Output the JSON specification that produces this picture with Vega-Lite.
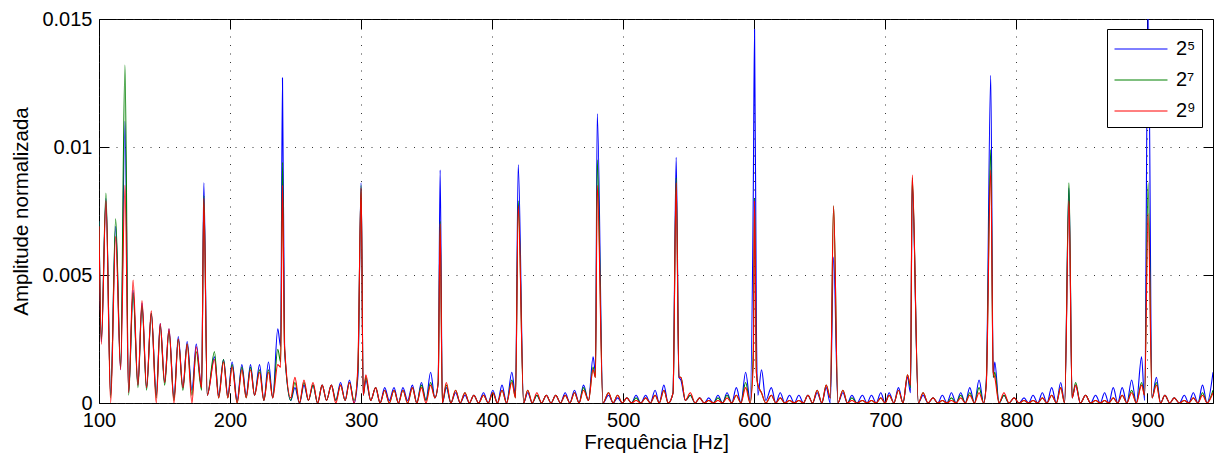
{
  "$schema": "https://vega.github.io/schema/vega-lite/v6.json",
  "width": 1114,
  "height": 384,
  "autosize": {"type": "none"},
  "padding": {"left": 99, "top": 19, "right": 2, "bottom": 53},
  "background": "white",
  "config": {
    "font": "Liberation Sans",
    "view": {"stroke": "black", "strokeWidth": 1},
    "axis": {
      "labelFont": "Liberation Sans", "labelFontSize": 20, "labelColor": "black",
      "titleFont": "Liberation Sans", "titleFontSize": 20.5, "titleFontWeight": "normal", "titleColor": "black",
      "domain": false, "tickColor": "black", "tickSize": -10, "tickWidth": 1,
      "gridColor": "#222", "gridDash": [1, 7.5], "gridWidth": 1, "gridOpacity": 0.9
    }
  },
  "data": {"values": [
    {"f":100,"a":0.0071,"b":0.0071,"c":0.0069},
    {"f":101.8,"a":0.0024,"b":0.0025,"c":0.0023},
    {"f":105.3,"a":0.0080,"b":0.0082,"c":0.0079},
    {"f":108.9,"a":0.0003,"b":0.0002,"c":0},
    {"f":112.7,"a":0.0069,"b":0.0072,"c":0.0065},
    {"f":116.5,"a":0.0013,"b":0.0014,"c":0.0013},
    {"f":119.8,"a":0.0110,"b":0.0132,"c":0.0085},
    {"f":122.6,"a":0.0004,"b":0.0003,"c":0.0004},
    {"f":126.0,"a":0.0044,"b":0.0043,"c":0.0048},
    {"f":129.7,"a":0.0007,"b":0.0006,"c":0.0007},
    {"f":132.8,"a":0.0039,"b":0.0038,"c":0.0040},
    {"f":136.3,"a":0.0006,"b":0.0005,"c":0.0006},
    {"f":139.9,"a":0.0035,"b":0.0035,"c":0.0036},
    {"f":143.7,"a":0.0003,"b":0.0002,"c":0},
    {"f":146.7,"a":0.0031,"b":0.0030,"c":0.0031},
    {"f":150.1,"a":0.0008,"b":0.0007,"c":0.0008},
    {"f":153.4,"a":0.0029,"b":0.0028,"c":0.0029},
    {"f":157.2,"a":0.0002,"b":0.0001,"c":0},
    {"f":160.5,"a":0.0026,"b":0.0025,"c":0.0025},
    {"f":164.0,"a":0.0006,"b":0.0005,"c":0.0006},
    {"f":167.3,"a":0.0024,"b":0.0023,"c":0.0023},
    {"f":170.9,"a":0.0005,"b":0.0003,"c":0},
    {"f":174.2,"a":0.0023,"b":0.0020,"c":0.0022},
    {"f":178.3,"a":0.0006,"b":0.0005,"c":0.0006},
    {"f":180.0,"a":0.0086,"b":0.0081,"c":0.0080},
    {"f":182.6,"a":0.0003,"b":0.0003,"c":0.0003},
    {"f":188.1,"a":0.0018,"b":0.0020,"c":0.0017},
    {"f":191.3,"a":0.0003,"b":0.0002,"c":0.0002},
    {"f":195.0,"a":0.0017,"b":0.0017,"c":0.0016},
    {"f":198.3,"a":0.0003,"b":0.0002,"c":0.0002},
    {"f":201.6,"a":0.0016,"b":0.0015,"c":0.0014},
    {"f":205.4,"a":0.0001,"b":0,"c":0},
    {"f":209.0,"a":0.0015,"b":0.0014,"c":0.0013},
    {"f":212.3,"a":0.0003,"b":0.0002,"c":0.0002},
    {"f":215.6,"a":0.0015,"b":0.0014,"c":0.0013},
    {"f":218.7,"a":0.0003,"b":0.0003,"c":0.0003},
    {"f":222.5,"a":0.0015,"b":0.0013,"c":0.0012},
    {"f":225.8,"a":0.0001,"b":0.0001,"c":0.0001},
    {"f":229.3,"a":0.0016,"b":0.0013,"c":0.0012},
    {"f":232.6,"a":0.0002,"b":0.0002,"c":0.0002},
    {"f":236.4,"a":0.0029,"b":0.0021,"c":0.0015},
    {"f":238.6,"a":0.0022,"b":0.0016,"c":0.0014},
    {"f":240.0,"a":0.0127,"b":0.0094,"c":0.0085},
    {"f":241.6,"a":0.0021,"b":0.0021,"c":0.0022},
    {"f":246.3,"a":0.0001,"b":0.0001,"c":0.0002},
    {"f":249.5,"a":0.0006,"b":0.0008,"c":0.0010},
    {"f":253.0,"a":0,"b":0,"c":0},
    {"f":256.4,"a":0.0007,"b":0.0008,"c":0.0009},
    {"f":259.8,"a":0.0001,"b":0.0001,"c":0.0001},
    {"f":263.3,"a":0.0007,"b":0.0007,"c":0.0008},
    {"f":266.8,"a":0,"b":0,"c":0},
    {"f":270.3,"a":0.0007,"b":0.0007,"c":0.0007},
    {"f":273.6,"a":0.0001,"b":0.0001,"c":0.0001},
    {"f":277.3,"a":0.0007,"b":0.0007,"c":0.0007},
    {"f":280.7,"a":0.0001,"b":0.0001,"c":0},
    {"f":284.3,"a":0.0008,"b":0.0007,"c":0.0007},
    {"f":287.8,"a":0.0001,"b":0.0001,"c":0.0001},
    {"f":291.1,"a":0.0009,"b":0.0008,"c":0.0008},
    {"f":294.6,"a":0,"b":0.0001,"c":0},
    {"f":297.5,"a":0.0010,"b":0.0012,"c":0.0014},
    {"f":300.0,"a":0.0086,"b":0.0085,"c":0.0084},
    {"f":301.6,"a":0.0003,"b":0.0003,"c":0.0003},
    {"f":303.6,"a":0.0009,"b":0.0010,"c":0.0011},
    {"f":307.3,"a":0.0001,"b":0.0001,"c":0.0001},
    {"f":311.1,"a":0.0006,"b":0.0006,"c":0.0006},
    {"f":314.5,"a":0,"b":0,"c":0},
    {"f":318.0,"a":0.0006,"b":0.0005,"c":0.0005},
    {"f":321.5,"a":0.0001,"b":0,"c":0},
    {"f":325.1,"a":0.0006,"b":0.0005,"c":0.0005},
    {"f":328.5,"a":0,"b":0,"c":0},
    {"f":331.9,"a":0.0006,"b":0.0005,"c":0.0005},
    {"f":335.5,"a":0.0001,"b":0,"c":0},
    {"f":339.1,"a":0.0007,"b":0.0006,"c":0.0006},
    {"f":342.5,"a":0,"b":0,"c":0},
    {"f":346.0,"a":0.0008,"b":0.0007,"c":0.0006},
    {"f":349.5,"a":0.0001,"b":0.0001,"c":0},
    {"f":353.0,"a":0.0012,"b":0.0008,"c":0.0007},
    {"f":356.3,"a":0.0002,"b":0.0002,"c":0.0002},
    {"f":358.8,"a":0.0008,"b":0.0008,"c":0.0008},
    {"f":360.3,"a":0.0091,"b":0.0071,"c":0.0070},
    {"f":362.0,"a":0,"b":0,"c":0},
    {"f":365.0,"a":0.0006,"b":0.0007,"c":0.0008},
    {"f":368.5,"a":0,"b":0,"c":0},
    {"f":372.1,"a":0.0004,"b":0.0005,"c":0.0005},
    {"f":375.6,"a":0,"b":0,"c":0},
    {"f":379.2,"a":0.0003,"b":0.0004,"c":0.0004},
    {"f":382.6,"a":0,"b":0,"c":0},
    {"f":386.0,"a":0.0003,"b":0.0003,"c":0.0003},
    {"f":389.6,"a":0,"b":0,"c":0},
    {"f":393.4,"a":0.0004,"b":0.0003,"c":0.0003},
    {"f":397.0,"a":0,"b":0,"c":0},
    {"f":400.5,"a":0.0005,"b":0.0004,"c":0.0004},
    {"f":404.0,"a":0,"b":0,"c":0},
    {"f":407.5,"a":0.0007,"b":0.0005,"c":0.0005},
    {"f":411.0,"a":0,"b":0,"c":0},
    {"f":415.0,"a":0.0012,"b":0.0009,"c":0.0008},
    {"f":417.8,"a":0.0003,"b":0.0002,"c":0.0002},
    {"f":419.9,"a":0.0093,"b":0.0079,"c":0.0077},
    {"f":424.0,"a":0,"b":0,"c":0},
    {"f":427.1,"a":0.0004,"b":0.0005,"c":0.0005},
    {"f":430.6,"a":0,"b":0,"c":0},
    {"f":434.1,"a":0.0003,"b":0.0003,"c":0.0004},
    {"f":437.7,"a":0,"b":0,"c":0},
    {"f":441.3,"a":0.0003,"b":0.0003,"c":0.0003},
    {"f":444.9,"a":0,"b":0,"c":0},
    {"f":448.5,"a":0.0003,"b":0.0003,"c":0.0003},
    {"f":452.1,"a":0,"b":0,"c":0},
    {"f":455.7,"a":0.0004,"b":0.0003,"c":0.0003},
    {"f":459.3,"a":0,"b":0,"c":0},
    {"f":462.8,"a":0.0005,"b":0.0004,"c":0.0004},
    {"f":466.3,"a":0,"b":0,"c":0},
    {"f":469.7,"a":0.0007,"b":0.0006,"c":0.0005},
    {"f":473.5,"a":0.0001,"b":0.0001,"c":0.0001},
    {"f":477.0,"a":0.0018,"b":0.0014,"c":0.0013},
    {"f":478.8,"a":0.0012,"b":0.0010,"c":0.0010},
    {"f":480.2,"a":0.0113,"b":0.0095,"c":0.0085},
    {"f":484.5,"a":0,"b":0,"c":0},
    {"f":488.8,"a":0.0003,"b":0.0004,"c":0.0004},
    {"f":492.3,"a":0,"b":0,"c":0},
    {"f":495.7,"a":0.0002,"b":0.0003,"c":0.0003},
    {"f":499.2,"a":0,"b":0,"c":0},
    {"f":502.8,"a":0.0002,"b":0.0002,"c":0.0002},
    {"f":506.3,"a":0,"b":0,"c":0},
    {"f":509.8,"a":0.0003,"b":0.0002,"c":0.0001},
    {"f":513.4,"a":0,"b":0,"c":0},
    {"f":517.1,"a":0.0003,"b":0.0002,"c":0.0002},
    {"f":520.7,"a":0,"b":0,"c":0},
    {"f":524.3,"a":0.0005,"b":0.0003,"c":0.0003},
    {"f":527.5,"a":0,"b":0,"c":0},
    {"f":531.0,"a":0.0007,"b":0.0005,"c":0.0005},
    {"f":534.3,"a":0,"b":0,"c":0},
    {"f":538.0,"a":0.0004,"b":0.0004,"c":0.0004},
    {"f":540.4,"a":0.0096,"b":0.0088,"c":0.0086},
    {"f":542.5,"a":0.0010,"b":0.0010,"c":0.0010},
    {"f":544.0,"a":0.0009,"b":0.0010,"c":0.0010},
    {"f":547.4,"a":0.0001,"b":0.0001,"c":0.0001},
    {"f":551.2,"a":0.0003,"b":0.0003,"c":0.0004},
    {"f":554.8,"a":0,"b":0,"c":0},
    {"f":558.3,"a":0.0002,"b":0.0002,"c":0.0002},
    {"f":561.8,"a":0,"b":0,"c":0},
    {"f":565.2,"a":0.0002,"b":0.0001,"c":0.0001},
    {"f":568.8,"a":0,"b":0,"c":0},
    {"f":572.3,"a":0.0003,"b":0.0002,"c":0.0001},
    {"f":575.8,"a":0,"b":0,"c":0},
    {"f":579.2,"a":0.0004,"b":0.0003,"c":0.0002},
    {"f":582.8,"a":0,"b":0,"c":0},
    {"f":586.3,"a":0.0006,"b":0.0003,"c":0.0003},
    {"f":589.8,"a":0,"b":0,"c":0},
    {"f":593.4,"a":0.0012,"b":0.0008,"c":0.0006},
    {"f":596.8,"a":0.0001,"b":0,"c":0},
    {"f":599.2,"a":0.0080,"b":0.0020,"c":0.0015},
    {"f":600.2,"a":0.0146,"b":0.0080,"c":0.0079},
    {"f":601.6,"a":0.0030,"b":0.0012,"c":0.0012},
    {"f":602.8,"a":0.0003,"b":0.0007,"c":0.0007},
    {"f":605.5,"a":0.0013,"b":0.0004,"c":0.0004},
    {"f":608.8,"a":0.0001,"b":0,"c":0},
    {"f":613.0,"a":0.0006,"b":0.0003,"c":0.0003},
    {"f":616.4,"a":0,"b":0,"c":0},
    {"f":619.8,"a":0.0004,"b":0.0002,"c":0.0002},
    {"f":623.3,"a":0,"b":0,"c":0},
    {"f":626.9,"a":0.0003,"b":0.0001,"c":0.0001},
    {"f":630.5,"a":0,"b":0,"c":0},
    {"f":634.0,"a":0.0003,"b":0.0001,"c":0.0001},
    {"f":637.5,"a":0,"b":0,"c":0},
    {"f":640.9,"a":0.0003,"b":0.0003,"c":0.0003},
    {"f":644.5,"a":0,"b":0,"c":0},
    {"f":648.0,"a":0.0004,"b":0.0005,"c":0.0005},
    {"f":651.5,"a":0,"b":0,"c":0},
    {"f":654.9,"a":0.0006,"b":0.0007,"c":0.0007},
    {"f":658.0,"a":0,"b":0.0002,"c":0.0002},
    {"f":660.5,"a":0.0057,"b":0.0077,"c":0.0077},
    {"f":663.8,"a":0,"b":0,"c":0},
    {"f":667.6,"a":0.0004,"b":0.0005,"c":0.0005},
    {"f":671.0,"a":0,"b":0,"c":0},
    {"f":674.5,"a":0.0003,"b":0.0002,"c":0.0001},
    {"f":678.3,"a":0,"b":0,"c":0},
    {"f":682.5,"a":0.0003,"b":0.0001,"c":0.0001},
    {"f":686.0,"a":0,"b":0,"c":0},
    {"f":689.4,"a":0.0003,"b":0.0001,"c":0.0001},
    {"f":693.0,"a":0,"b":0,"c":0},
    {"f":696.5,"a":0.0004,"b":0.0002,"c":0.0002},
    {"f":699.8,"a":0,"b":0,"c":0},
    {"f":702.9,"a":0.0004,"b":0.0003,"c":0.0003},
    {"f":706.5,"a":0,"b":0,"c":0},
    {"f":710.0,"a":0.0006,"b":0.0005,"c":0.0005},
    {"f":713.5,"a":0,"b":0,"c":0},
    {"f":716.9,"a":0.0010,"b":0.0011,"c":0.0011},
    {"f":719.2,"a":0.0004,"b":0.0006,"c":0.0007},
    {"f":720.5,"a":0.0086,"b":0.0088,"c":0.0089},
    {"f":725.2,"a":0,"b":0,"c":0},
    {"f":728.8,"a":0.0003,"b":0.0004,"c":0.0004},
    {"f":732.5,"a":0,"b":0,"c":0},
    {"f":736.4,"a":0.0002,"b":0.0002,"c":0.0002},
    {"f":740.0,"a":0,"b":0,"c":0},
    {"f":743.5,"a":0.0003,"b":0.0001,"c":0.0001},
    {"f":747.0,"a":0,"b":0,"c":0},
    {"f":750.4,"a":0.0004,"b":0.0002,"c":0.0001},
    {"f":754.0,"a":0,"b":0,"c":0},
    {"f":757.5,"a":0.0004,"b":0.0003,"c":0.0002},
    {"f":761.0,"a":0,"b":0,"c":0},
    {"f":764.4,"a":0.0006,"b":0.0004,"c":0.0003},
    {"f":768.0,"a":0,"b":0,"c":0},
    {"f":771.5,"a":0.0009,"b":0.0006,"c":0.0004},
    {"f":775.0,"a":0,"b":0,"c":0},
    {"f":777.0,"a":0.0008,"b":0.0008,"c":0.0007},
    {"f":780.4,"a":0.0128,"b":0.0099,"c":0.0091},
    {"f":782.3,"a":0.0010,"b":0.0010,"c":0.0012},
    {"f":783.5,"a":0.0016,"b":0.0012,"c":0.0010},
    {"f":786.7,"a":0,"b":0,"c":0},
    {"f":790.5,"a":0.0003,"b":0.0003,"c":0.0004},
    {"f":794.3,"a":0,"b":0,"c":0},
    {"f":798.2,"a":0.0002,"b":0.0002,"c":0.0002},
    {"f":802.0,"a":0,"b":0,"c":0},
    {"f":805.8,"a":0.0002,"b":0.0001,"c":0.0001},
    {"f":809.3,"a":0,"b":0,"c":0},
    {"f":812.7,"a":0.0003,"b":0.0001,"c":0.0001},
    {"f":816.3,"a":0,"b":0,"c":0},
    {"f":819.8,"a":0.0004,"b":0.0002,"c":0.0002},
    {"f":823.3,"a":0,"b":0,"c":0},
    {"f":826.9,"a":0.0006,"b":0.0003,"c":0.0003},
    {"f":830.5,"a":0,"b":0,"c":0},
    {"f":833.8,"a":0.0008,"b":0.0006,"c":0.0006},
    {"f":836.8,"a":0,"b":0,"c":0},
    {"f":840.1,"a":0.0084,"b":0.0086,"c":0.0079},
    {"f":842.5,"a":0.0002,"b":0.0002,"c":0.0002},
    {"f":845.2,"a":0.0007,"b":0.0008,"c":0.0007},
    {"f":848.8,"a":0,"b":0,"c":0},
    {"f":852.8,"a":0.0003,"b":0.0003,"c":0.0003},
    {"f":856.6,"a":0,"b":0,"c":0},
    {"f":860.4,"a":0.0003,"b":0.0001,"c":0.0001},
    {"f":864.0,"a":0,"b":0,"c":0},
    {"f":867.3,"a":0.0004,"b":0.0001,"c":0.0001},
    {"f":870.5,"a":0,"b":0,"c":0},
    {"f":873.9,"a":0.0006,"b":0.0002,"c":0.0002},
    {"f":877.3,"a":0,"b":0,"c":0},
    {"f":880.7,"a":0.0006,"b":0.0003,"c":0.0003},
    {"f":884.3,"a":0,"b":0,"c":0},
    {"f":887.9,"a":0.0009,"b":0.0005,"c":0.0004},
    {"f":891.5,"a":0,"b":0,"c":0},
    {"f":895.5,"a":0.0018,"b":0.0008,"c":0.0007},
    {"f":897.8,"a":0.0001,"b":0.0003,"c":0.0003},
    {"f":900.5,"a":0.0158,"b":0.0086,"c":0.0074},
    {"f":903.5,"a":0.0002,"b":0.0002,"c":0.0002},
    {"f":906.8,"a":0.0010,"b":0.0008,"c":0.0007},
    {"f":910.0,"a":0,"b":0,"c":0},
    {"f":913.3,"a":0.0003,"b":0.0003,"c":0.0003},
    {"f":917.0,"a":0,"b":0,"c":0},
    {"f":920.4,"a":0.0002,"b":0.0002,"c":0.0002},
    {"f":924.3,"a":0,"b":0,"c":0},
    {"f":928.1,"a":0.0003,"b":0.0001,"c":0.0001},
    {"f":931.5,"a":0,"b":0,"c":0},
    {"f":935.0,"a":0.0004,"b":0.0002,"c":0.0002},
    {"f":938.5,"a":0,"b":0,"c":0},
    {"f":942.0,"a":0.0007,"b":0.0004,"c":0.0003},
    {"f":945.5,"a":0,"b":0,"c":0},
    {"f":950.0,"a":0.0012,"b":0.0005,"c":0.0004}
  ]},
  "transform": [{"fold": ["a", "b", "c"], "as": ["serie", "amp"]}],
  "layer": [
    {
      "mark": {"type": "line", "interpolate": "monotone", "strokeWidth": 1.1, "clip": true},
      "encoding": {
        "x": {
          "field": "f", "type": "quantitative",
          "scale": {"domain": [100, 950], "nice": false, "zero": false},
          "axis": {"orient": "bottom", "title": "Frequência [Hz]", "values": [100, 200, 300, 400, 500, 600, 700, 800, 900],
                   "grid": true, "labelPadding": 17.5, "titlePadding": 2, "labelFlush": false}
        },
        "y": {
          "field": "amp", "type": "quantitative",
          "scale": {"domain": [0, 0.015], "nice": false},
          "axis": {"orient": "left", "title": "Amplitude normalizada", "values": [0, 0.005, 0.01, 0.015], "format": ".3~f",
                   "grid": true, "labelPadding": 17, "titlePadding": 10}
        },
        "color": {
          "field": "serie", "type": "nominal",
          "scale": {"domain": ["a", "b", "c"], "range": ["#0000ff", "#008000", "#ff0000"]},
          "legend": {
            "orient": "none", "legendX": 1008, "legendY": 10, "title": null,
            "strokeColor": "black", "fillColor": "white", "padding": 6,
            "symbolType": "M-2,0H2", "symbolSize": 702, "symbolStrokeWidth": 1, "symbolOffset": 14,
            "rowPadding": 7,
            "labelFont": "Liberation Sans", "labelFontSize": 20, "labelColor": "black", "labelOffset": 21,
            "labelExpr": "datum.label == 'a' ? '2⁵' : datum.label == 'b' ? '2⁷' : '2⁹'"
          }
        }
      }
    },
    {
      "mark": {"type": "line", "opacity": 0},
      "encoding": {
        "x": {"field": "f", "type": "quantitative",
              "axis": {"orient": "top", "labels": false, "title": null, "grid": false, "values": [100, 200, 300, 400, 500, 600, 700, 800, 900]}},
        "y": {"field": "amp", "type": "quantitative",
              "axis": {"orient": "right", "labels": false, "title": null, "grid": false, "values": [0, 0.005, 0.01, 0.015]}}
      }
    }
  ],
  "resolve": {"axis": {"x": "independent", "y": "independent"}}
}
